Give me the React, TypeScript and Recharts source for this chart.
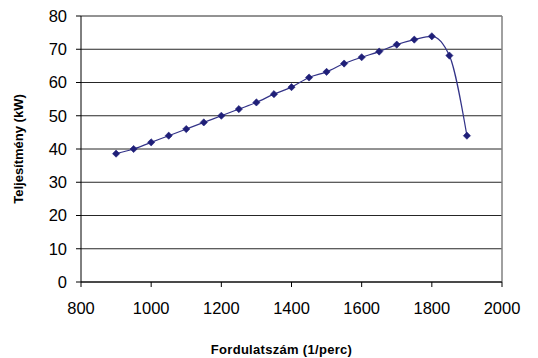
import { LineChart, Line, XAxis, YAxis, CartesianGrid, ReferenceLine } from "recharts";

const rpm = [900, 950, 1000, 1050, 1100, 1150, 1200, 1250, 1300, 1350, 1400, 1450, 1500, 1550, 1600, 1650, 1700, 1750, 1800, 1850, 1900];
const power = [38.6, 40, 42, 44, 46, 48, 50, 52, 54, 56.5, 58.6, 61.5, 63.2, 65.7, 67.6, 69.3, 71.4, 72.9, 73.9, 68.1, 44];
const xTicks = [800, 1000, 1200, 1400, 1600, 1800, 2000];
const yTicks = [0, 10, 20, 30, 40, 50, 60, 70, 80];

const FONT = "'Liberation Sans', Arial, sans-serif";
const NAVY = "#1f1f78";

const data = rpm.map((r, i) => ({ rpm: r, power: power[i] }));

function Diamond(props: any) {
  const { cx, cy } = props;
  if (cx == null || cy == null) return null;
  const s = 3.6;
  return (
    <polygon
      points={`${cx},${cy - s} ${cx + s},${cy} ${cx},${cy + s} ${cx - s},${cy}`}
      fill={NAVY}
      stroke={NAVY}
      strokeWidth={0.6}
    />
  );
}

export default function App() {
  return (
    <div style={{ position: "absolute", left: 0, top: 0, background: "#fff" }}>
      <LineChart
        width={538}
        height={358}
        data={data}
        margin={{ top: 16, right: 36, bottom: 0, left: 0 }}
      >
        <CartesianGrid horizontal vertical={false} stroke="#000" strokeOpacity={0.85} />
        <ReferenceLine x={2000} stroke="#808080" strokeWidth={1.5} />
        <XAxis
          dataKey="rpm"
          type="number"
          domain={[800, 2000]}
          ticks={xTicks}
          height={76}
          stroke="#000"
          tickSize={5}
          tickMargin={15}
          tick={{ fill: "#000", fontSize: 16.5, fontFamily: FONT }}
          label={{
            value: "Fordulatszám (1/perc)",
            position: "insideBottom",
            offset: 4,
            dx: -10,
            style: { fontFamily: FONT, fontSize: 13, fontWeight: "bold", fill: "#000", letterSpacing: 0.3 },
          }}
        />
        <YAxis
          type="number"
          domain={[0, 80]}
          ticks={yTicks}
          width={81}
          stroke="#000"
          tickSize={5}
          tickMargin={9}
          tick={{ fill: "#000", fontSize: 16.5, fontFamily: FONT }}
          label={{
            value: "Teljesítmény (kW)",
            angle: -90,
            position: "insideLeft",
            offset: 18,
            style: { textAnchor: "middle", fontFamily: FONT, fontSize: 13, fontWeight: "bold", fill: "#000" },
          }}
        />
        <Line
          type="monotone"
          dataKey="power"
          stroke="#333388"
          strokeWidth={1.2}
          dot={<Diamond />}
          activeDot={false}
          isAnimationActive={false}
        />
      </LineChart>
    </div>
  );
}
